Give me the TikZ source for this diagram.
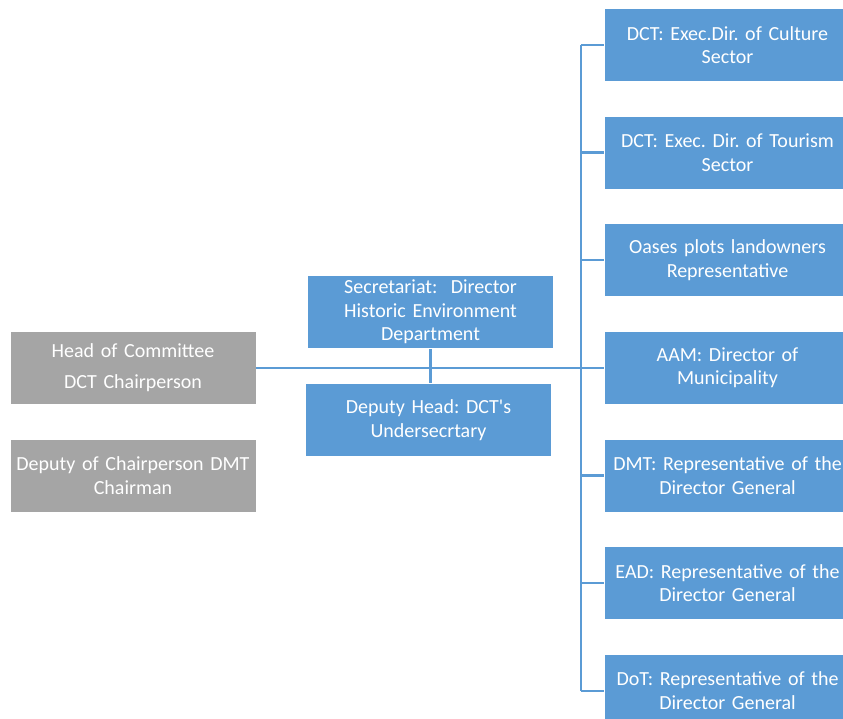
\documentclass[tikz,border=0pt]{standalone}
\usepackage{fontspec}
\setmainfont{Carlito}[Ligatures=TeXOff]
\usepackage{xcolor}
\usetikzlibrary{positioning}

\definecolor{boxblue}{HTML}{5B9BD5}
\definecolor{boxgray}{HTML}{A5A5A5}

\begin{document}
\frenchspacing
\begin{tikzpicture}[
  x=1pt, y=-1pt,
  node distance=34pt and 34pt,
  box/.style={draw=white, line width=0.6pt, align=center, inner sep=0pt, minimum height=73pt, text width=246pt, text=white, font=\fontsize{20}{23.5}\selectfont},
  bluebox/.style={box, fill=boxblue},
  graybox/.style={box, fill=boxgray},
  link/.style={draw=boxblue, line width=2.2pt}
]
\useasboundingbox (0,0) rectangle (843,719);
% committee members
\node[bluebox] (culture) at (727.5,45) {DCT: Exec.Dir. of Culture\\Sector};
\node[bluebox, below=of culture] (tourism) {DCT: Exec. Dir. of Tourism\\Sector};
\node[bluebox, below=of tourism] (oases) {Oases plots landowners\\Representative};
\node[bluebox, below=of oases] (aam) {AAM: Director of\\Municipality};
\node[bluebox, below=of aam] (dmt) {DMT: Representative of the\\Director General};
\node[bluebox, below=of dmt] (ead) {EAD: Representative of the\\Director General};
\node[bluebox, below=of ead] (dot) {DoT: Representative of the\\Director General};
% chair side
\coordinate (leftcol) at (133,0);
\node[graybox] (head) at (leftcol |- aam) {Head of Committee\\[8pt]DCT Chairperson};
\node[graybox, below=34pt of head] (deputy) {Deputy of Chairperson DMT\\Chairman};
\node[bluebox] (secr) at (430.5,312) {Secretariat:\ \ Director\\Historic Environment\\Department};
\node[bluebox] (dhead) at (428.5,420) {Deputy Head: DCT's\\Undersecrtary};
\coordinate (bus) at (581,0);
\draw[link] (head.east) -- (aam.west);
\draw[link] (secr.south) -- (secr.south |- dhead.north);
\draw[link] (bus |- culture.west) -- (bus |- dot.west);
\foreach \m in {culture,tourism,oases,dmt,ead,dot}
  \draw[link] (bus |- \m.west) -- (\m.west);
\end{tikzpicture}
\end{document}
